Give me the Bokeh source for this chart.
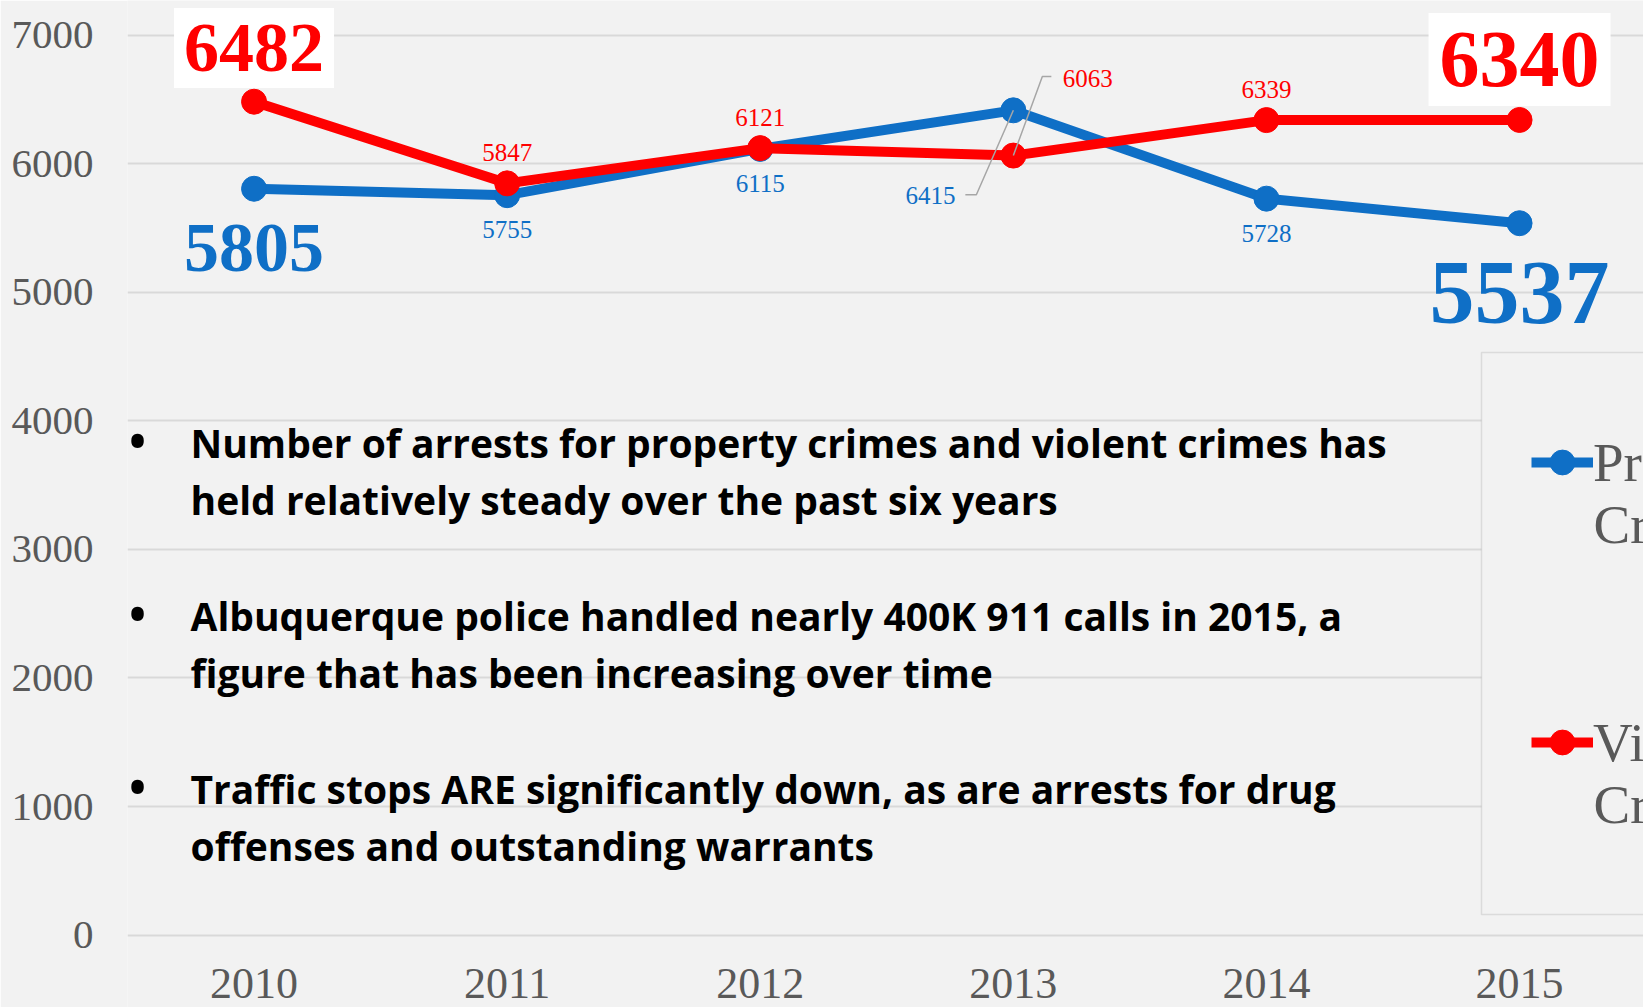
from bokeh.plotting import figure
from bokeh.models import (Label, LabelSet, Legend, LegendItem, FixedTicker, Range1d,
                          BoxAnnotation, ColumnDataSource)
from bokeh.embed import file_html
from bokeh.resources import INLINE

# ---------------- data ----------------
years = ["2010", "2011", "2012", "2013", "2014", "2015"]
property_crime = [5805, 5755, 6115, 6415, 5728, 5537]
violent_crime = [6482, 5847, 6121, 6063, 6339, 6340]
y_ticks = [0, 1000, 2000, 3000, 4000, 5000, 6000, 7000]
series_names = ["Property Crime", "Violent Crime"]
bullet_lines = [
    ["Number of arrests for property crimes and violent crimes has",
     "held relatively steady over the past six years"],
    ["Albuquerque police handled nearly 400K  911 calls in 2015, a",
     "figure that has been increasing over time"],
    ["Traffic stops ARE significantly down, as are arrests for drug",
     "offenses and outstanding warrants"],
]

# ---------------- style / layout ----------------
BLUE = "#0F6FC6"
RED = "#FF0000"
BG = "#F2F2F2"
GRID = "#D9D9D9"
TXT = "#595959"
LEADER = "#A6A6A6"
NUM_FONT = "Liberation Serif"
BULLET_FONT = "Open Sans"

FIG_W, FIG_H = 1643, 1007
BORDER_LEFT = 127
CAT_PX = 253.1            # px per category
PX_PER_Y = 128.57 / 1000  # px per unit value
ZERO_FIG_Y = 934.6        # zero grid line, px from top of figure

frame_w = FIG_W - BORDER_LEFT
frame_h = FIG_H
x_start = -0.5
x_end = x_start + frame_w / CAT_PX
y_end = ZERO_FIG_Y / PX_PER_Y
y_start = -(frame_h - ZERO_FIG_Y) / PX_PER_Y


def px_x(page_x):
    return x_start + (page_x - BORDER_LEFT) / CAT_PX


def px_y(page_y):
    return y_end - page_y / PX_PER_Y


p = figure(width=FIG_W, height=FIG_H, output_backend="svg", toolbar_location=None,
           x_range=Range1d(x_start, x_end), y_range=Range1d(y_start, y_end),
           min_border_left=BORDER_LEFT, min_border_right=0, min_border_top=0,
           min_border_bottom=0)
p.background_fill_color = BG
p.border_fill_color = BG
p.outline_line_color = None

# y axis
p.yaxis.ticker = FixedTicker(ticks=y_ticks)
p.yaxis.axis_line_color = None
p.yaxis.major_tick_line_color = None
p.yaxis.minor_tick_line_color = None
p.yaxis.major_label_text_color = TXT
p.yaxis.major_label_text_font = NUM_FONT
p.yaxis.major_label_text_font_size = "41px"
p.yaxis.major_label_standoff = 28
# x axis: category labels sit at the very bottom edge of the picture
p.xaxis.visible = False
p.xgrid.grid_line_color = None
p.ygrid.grid_line_color = GRID
p.ygrid.grid_line_width = 2

xs = list(range(len(years)))
year_src = ColumnDataSource(dict(x=xs, y=[px_y(983)] * len(xs), text=years))
p.add_layout(LabelSet(x="x", y="y", text="text", source=year_src,
                      text_align="center", text_baseline="middle",
                      text_font=NUM_FONT, text_font_size="44px", text_color=TXT))

b_line = p.line(xs, property_crime, line_color=BLUE, line_width=10)
b_pts = p.scatter(xs, property_crime, size=25, fill_color=BLUE, line_color=BLUE)
r_line = p.line(xs, violent_crime, line_color=RED, line_width=10)
r_pts = p.scatter(xs, violent_crime, size=25, fill_color=RED, line_color=RED)

# leader lines for 2013 labels (offsets in px from the point)
i13 = years.index("2013")


def leader(i, val, pts):
    lx = [i + dx / CAT_PX for dx, dy in pts]
    ly = [val + dy / PX_PER_Y for dx, dy in pts]
    p.line(lx, ly, line_color=LEADER, line_width=1.5)


leader(i13, property_crime[i13], [(-48, -84.5), (-37, -84.5), (0, 0)])
leader(i13, violent_crime[i13], [(38, 79), (29, 79), (0, 0)])


# value labels
def vlabel(i, val, color, dx, dy, size, bold=False, box=None):
    lab = Label(x=i, y=val, x_offset=dx, y_offset=dy, text=str(val),
                text_color=color, text_font=NUM_FONT, text_font_size=size,
                text_align="center", text_baseline="middle",
                text_font_style="bold" if bold else "normal")
    if box:
        lab.background_fill_color = "white"
        lab.padding = box
    p.add_layout(lab)


last = len(years) - 1
vlabel(0, violent_crime[0], RED, 0, 53.7, "70px", bold=True,
       box=dict(left=10, right=10, top=17, bottom=17))
vlabel(0, property_crime[0], BLUE, 0, -58.8, "70px", bold=True)
vlabel(last, violent_crime[last], RED, 0, 60.5, "80px", bold=True,
       box=dict(left=11, right=11, top=20, bottom=20))
vlabel(last, property_crime[last], BLUE, 0, -70, "90px", bold=True)
for i in range(1, last):
    if i == i13:
        continue
    vlabel(i, violent_crime[i], RED, 0, 31, "25px")
    vlabel(i, property_crime[i], BLUE, 0, -34.5, "25px")
vlabel(i13, violent_crime[i13], RED, 74.4, 77.4, "25px")
vlabel(i13, property_crime[i13], BLUE, -82.8, -85.2, "25px")

# bullet text (line centres in page px)
centers = [[442, 499], [615, 672], [788, 845]]
for lines, cy in zip(bullet_lines, centers):
    p.add_layout(Label(x=px_x(137), y=px_y(cy[0] - 3), text="\u2022", text_align="center",
                       text_baseline="middle", text_font=BULLET_FONT,
                       text_font_size="60px", text_color="black"))
    for t, c in zip(lines, cy):
        p.add_layout(Label(x=px_x(190), y=px_y(c), text=t, text_align="left",
                           text_baseline="middle", text_font=BULLET_FONT,
                           text_font_style="bold", text_font_size="39px",
                           text_color="black"))

# legend frame
p.add_layout(BoxAnnotation(left=px_x(1481), right=x_end + 1, top=px_y(352), bottom=px_y(914),
                           fill_color=BG, fill_alpha=1.0, line_color=LEADER,
                           line_width=1.5, level="annotation"))

# legend (first word with glyph) + second word as extra line
first_words = [n.split(" ", 1)[0] for n in series_names]
second_words = [n.split(" ", 1)[1] for n in series_names]
ENTRY = 63
entry_centers = [462, 742]
frame_bottom = FIG_H
legend = Legend(items=[LegendItem(label=first_words[0], renderers=[b_line, b_pts]),
                       LegendItem(label=first_words[1], renderers=[r_line, r_pts])],
                location=(1531 - BORDER_LEFT, frame_bottom - (entry_centers[1] + ENTRY / 2)),
                orientation="vertical",
                glyph_width=62, glyph_height=62, label_standoff=0, padding=0,
                spacing=entry_centers[1] - entry_centers[0] - ENTRY,
                label_height=ENTRY, margin=0,
                label_text_font=NUM_FONT, label_text_font_size="55px",
                label_text_color=TXT, label_text_baseline="middle",
                background_fill_alpha=0.0, border_line_color=None)
p.add_layout(legend)
for w, c in zip(second_words, entry_centers):
    p.add_layout(Label(x=px_x(1593), y=px_y(c + 62), text=w, text_align="left",
                       text_baseline="middle", text_font=NUM_FONT,
                       text_font_size="55px", text_color=TXT))

open("out.html", "w").write(file_html(p, INLINE))
